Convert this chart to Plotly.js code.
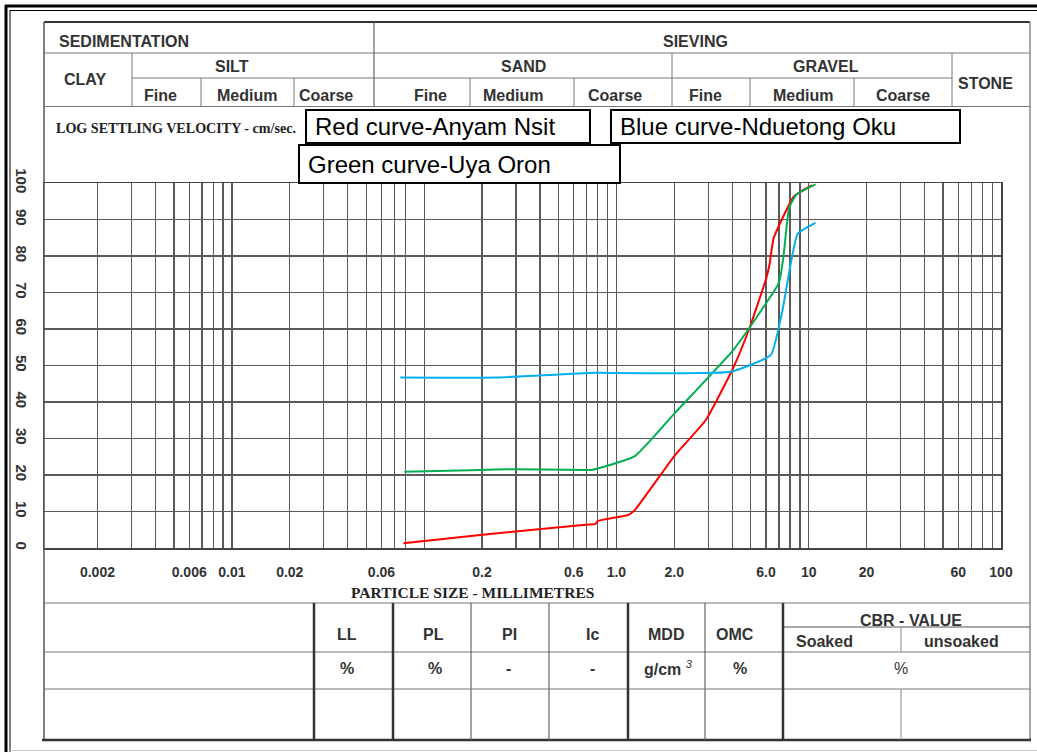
<!DOCTYPE html>
<html><head><meta charset="utf-8">
<script src="https://cdn.plot.ly/plotly-3.0.1.min.js"></script>
<style>html,body{margin:0;padding:0;background:#fff}#chart{width:1037px;height:752px}</style>
</head><body><div id="chart"></div>
<script>
// ---- data (particle size in mm, percent passing) ----
const redSize   = [0.078, 0.207, 0.669, 0.777, 0.80, 1.157, 1.242, 2.0, 2.91, 4.03, 4.9, 6.0, 6.25, 6.57, 8.37, 10.4];
const redPass   = [1.3, 3.7, 6.3, 6.6, 7.4, 9.1, 10.3, 25.2, 35.0, 49.1, 60.0, 73.7, 77.6, 84.9, 96.3, 99.4];
const greenSize = [0.079, 0.198, 0.275, 0.669, 0.743, 1.242, 2.0, 4.0, 4.81, 6.65, 7.02, 7.39, 7.9, 8.62, 10.85];
const greenPass = [20.9, 21.4, 21.6, 21.4, 21.4, 25.1, 36.8, 53.9, 59.6, 70.6, 72.8, 79.8, 93.1, 96.8, 99.6];
const blueSize  = [0.075, 0.233, 0.669, 0.78, 3.94, 6.36, 7.29, 8.76, 10.85];
const bluePass  = [46.7, 46.7, 47.9, 48.0, 48.3, 52.9, 64.9, 86.1, 89.1];

const gridSizes = [0.002,0.003,0.004,0.005,0.006,0.007,0.008,0.009,0.01,0.02,0.03,0.04,0.05,0.06,0.07,0.08,0.1,0.2,0.3,0.4,0.5,0.6,0.7,0.8,0.9,1,2,3,4,5,6,7,8,9,10,20,30,40,50,60,70,80,90,100];
const gridLabels = ['0.002','','','','0.006','','','','0.01','0.02','','','','0.06','','','','0.2','','','','0.6','','','','1.0','2.0','','','','6.0','','','','10','20','','','','60','','','','100'];
const pctTicks = [0,10,20,30,40,50,60,70,80,90,100];

const seriesNames = ['Red curve-Anyam Nsit','Blue curve-Nduetong Oku','Green curve-Uya Oron'];
const headerRow1 = ['SEDIMENTATION','SIEVING'];
const headerRow2 = ['CLAY','SILT','SAND','GRAVEL','STONE'];
const headerRow3 = ['Fine','Medium','Coarse','Fine','Medium','Coarse','Fine','Medium','Coarse'];
const tableHead = ['LL','PL','PI','Ic','MDD','OMC'];
const tableUnits = ['%','%','-','-','g/cm','%'];

// ---- layout helpers (page pixels -> paper) ----
const L=44, R=1001, T=183, B=548;
const X = px => (px-L)/(R-L);
const Y = py => (B-py)/(B-T);
const shapes=[], ann=[];
function ln(x0,y0,x1,y1,color,width){shapes.push({type:'line',xref:'paper',yref:'paper',x0:X(x0),y0:Y(y0),x1:X(x1),y1:Y(y1),line:{color:color,width:width},layer:'above'});}
function box(x0,y0,x1,y1){shapes.push({type:'rect',xref:'paper',yref:'paper',x0:X(x0),y0:Y(y0),x1:X(x1),y1:Y(y1),line:{color:'#000',width:2},fillcolor:'#fff',layer:'above'});}
function txt(t,x,y,o){o=o||{};ann.push({xref:'paper',yref:'paper',x:X(x),y:Y(y),text:t,showarrow:false,xanchor:o.xa||'center',yanchor:'middle',
  font:{family:o.fam||'Liberation Sans, Arial, sans-serif',size:o.size||16,color:o.color||'#333'}});}

// outer frame
ln(6,5,6,752,'#000',3); ln(10,10,10,752,'#000',1);
ln(5,6,1037,6,'#000',3); ln(10,10.5,1037,10.5,'#000',1);
ln(10,750.5,1037,750.5,'#ccc',1);
// form box
ln(44,22,1030,22,'#333',2); ln(44,22,44,740,'#555',1.5); ln(1030,22,1030,740,'#888',1.5); ln(42,740,1031,740,'#333',2.5);
// header grid
ln(44,53,1030,53,'#777',1); ln(132,78,952,78,'#777',1); ln(44,106.5,1030,106.5,'#777',1);
ln(374,22,374,106.5,'#666',1.2);
[132,672,952].forEach(x=>ln(x,53,x,106.5,'#777',1));
[201,294,470,574,750,854].forEach(x=>ln(x,78,x,106.5,'#777',1));
// bottom table
ln(44,603,1030,603,'#777',1); ln(44,652,1030,652,'#777',1); ln(44,689,1030,689,'#777',1); ln(783,627,1030,627,'#555',1.2);
[314,393,628,783].forEach(x=>ln(x,603,x,740,'#333',2.5));
[471,549,705].forEach(x=>ln(x,603,x,740,'#666',1.2));
ln(901,627,901,652,'#888',1); ln(901,689,901,740,'#888',1);

// header texts
const b = s => '<b>'+s+'</b>';
txt(b(headerRow1[0]),57,42,{xa:'left'}); txt(b(headerRow1[1]),695,42);
txt(b(headerRow2[0]),85,80); txt(b(headerRow2[1]),232,67); txt(b(headerRow2[2]),523,67); txt(b(headerRow2[3]),826,67); txt(b(headerRow2[4]),985,83);
[160,247,326,430,513,615,705,803,903].forEach((x,i)=>txt(b(headerRow3[i]),x,95.5));
txt('<b>LOG SETTLING VELOCITY - cm/sec.</b>',54,128,{xa:'left',fam:'Liberation Serif, Times New Roman, serif',size:14.1,color:'#222'});
txt('<b>PARTICLE SIZE - MILLIMETRES</b>',472,592,{fam:'Liberation Serif, Times New Roman, serif',size:15.5,color:'#222'});

// legend boxes
box(306,110,590,143); box(611,110,960,143); box(299,145,620,183);
txt(seriesNames[0],313,127,{xa:'left',size:24,color:'#000'});
txt(seriesNames[1],618,127,{xa:'left',size:24,color:'#000'});
txt(seriesNames[2],306,164,{xa:'left',size:24,color:'#000'});

// bottom table texts
[347,433,509,592,666,735].forEach((x,i)=>txt(b(tableHead[i]),x,634));
[347,435,508,592].forEach((x,i)=>txt(b(tableUnits[i]),x,668));
txt('<b>g/cm</b> <sup><i>3</i></sup>',668,668);
txt(b(tableUnits[5]),740,668);
txt('%',901,668);
txt('<b>CBR - VALUE</b>',911,620); txt('<b>Soaked</b>',824,641); txt('<b>unsoaked</b>',961,641);

// thick grid line in clay zone
shapes.push({type:'line',xref:'x',yref:'paper',x0:Math.log10(0.005),x1:Math.log10(0.005),y0:0,y1:1,line:{color:'#333',width:2.2},layer:'below'});

const mk = (x,y,c,n)=>({type:'scatter',mode:'lines',x:x,y:y,name:n,line:{color:c,width:2,shape:'spline',smoothing:0.4},hoverinfo:'x+y'});
const data=[mk(redSize,redPass,'#ff0000',seriesNames[0]), mk(greenSize,greenPass,'#00b050',seriesNames[2]), mk(blueSize,bluePass,'#00b0f0',seriesNames[1])];

const layout={width:1037,height:752,autosize:false,showlegend:false,
  margin:{l:L,r:1037-R,t:T,b:752-B,pad:0},paper_bgcolor:'#fff',plot_bgcolor:'#fff',
  xaxis:{type:'log',range:[-2.977,2],tickmode:'array',tickvals:gridSizes,ticktext:gridLabels,
    showgrid:true,gridcolor:'#5a5a5a',gridwidth:1.3,showline:true,linecolor:'#444',linewidth:1.5,mirror:true,
    ticks:'',ticklabelstandoff:11,tickfont:{family:'Liberation Sans, Arial, sans-serif',size:14,color:'#333',weight:700},zeroline:false,fixedrange:true},
  yaxis:{range:[0,100],tickmode:'array',tickvals:pctTicks,ticktext:pctTicks.map(String),tickangle:90,
    showgrid:true,gridcolor:'#5a5a5a',gridwidth:1.3,showline:true,linecolor:'#444',linewidth:1.5,mirror:true,
    ticks:'',ticklabelstandoff:9,tickfont:{family:'Liberation Sans, Arial, sans-serif',size:15,color:'#333',weight:700},zeroline:false,fixedrange:true},
  shapes:shapes,annotations:ann};
Plotly.newPlot('chart',data,layout,{staticPlot:true,displayModeBar:false});
</script></body></html>
